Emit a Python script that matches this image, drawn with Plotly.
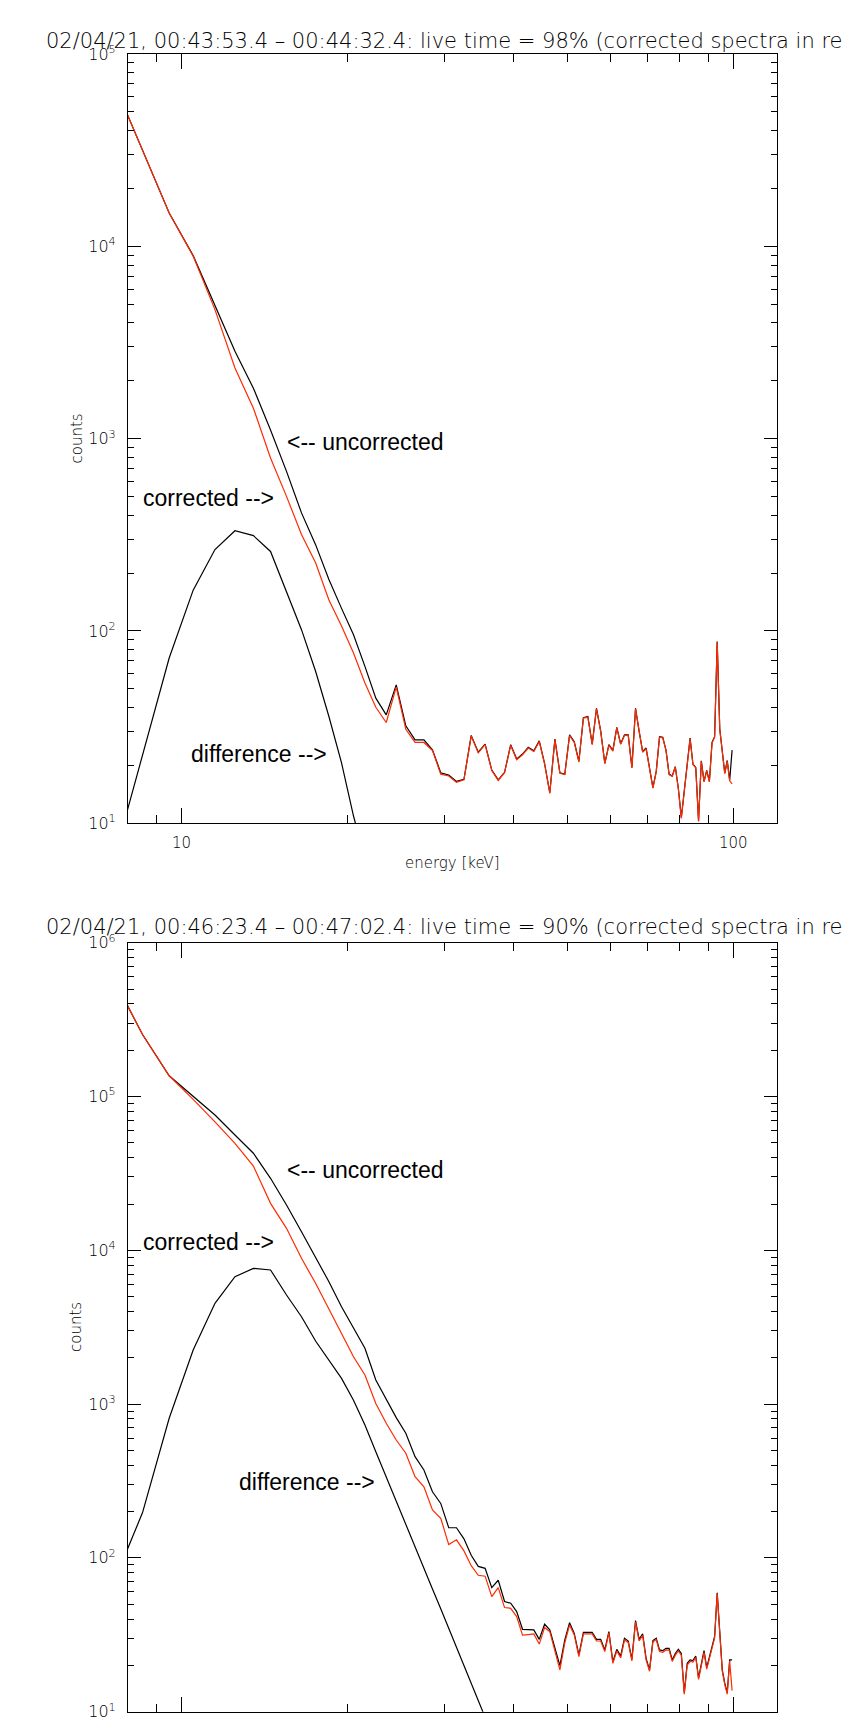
import plotly.graph_objects as go

# ---------------- data ----------------
energy = [7.5, 8.5, 9.5, 10.5, 11.5, 12.5, 13.5, 14.5, 15.5, 16.5, 17.5, 18.5, 19.5, 20.5,
          21.5, 22.5, 23.5, 24.5, 25.5, 26.5, 27.5, 28.5, 29.5, 30.5, 31.5, 32.5, 33.5, 34.5,
          35.5, 36.5, 37.5, 38.5, 39.5, 40.5, 41.5, 42.5, 43.5, 44.5, 45.5, 46.5, 47.5, 48.5,
          49.5, 50.5, 51.5, 52.5, 53.5, 54.5, 55.5, 56.5, 57.5, 58.5, 59.5, 60.5, 61.5, 62.5,
          63.5, 64.5, 65.5, 66.5, 67.5, 68.5, 69.5, 70.5, 71.5, 72.5, 73.5, 74.5, 75.5, 76.5,
          77.5, 78.5, 79.5, 80.5, 81.5, 82.5, 83.5, 84.5, 85.5, 86.5, 87.5, 88.5, 89.5, 90.5,
          91.5, 92.5, 93.5, 94.5, 95.5, 96.5, 97.5, 98.5, 99.5]

# panel 1 : live time 98 %
uncorr_1 = [73800, 32000, 14900, 8950, 4950, 2850, 1830, 1110, 676, 411, 281, 185, 131, 95.6,
            65.4, 44.7, 36.6, 52.4, 32.1, 27.1, 27.1, 24.1, 18.3, 17.8, 16.5, 16.9, 28.6, 23.4,
            25.8, 18.9, 16.8, 18.4, 25.6, 21.6, 22.9, 24.8, 23.8, 26.8, 20.5, 14.4, 27.4, 18.3,
            18.0, 28.8, 26.5, 21.0, 35.4, 35.9, 25.8, 39.6, 30.2, 20.5, 25.6, 23.9, 31.5, 25.9,
            28.8, 28.8, 19.5, 39.6, 30.0, 23.6, 24.6, 19.3, 15.3, 18.6, 28.2, 28.0, 24.1, 18.0,
            17.6, 19.7, 15.2, 10.7, 14.9, 20.5, 27.7, 20.3, 19.5, 10.3, 21.1, 16.5, 18.8, 16.5,
            26.3, 28.2, 88.1, 31.0, 23.0, 18.2, 21.2, 16.7, 24.0]
corr_1 = [73800, 32000, 14900, 8900, 4690, 2330, 1440, 793, 501, 317, 226, 145, 106, 76.7,
          53.6, 40.1, 33.4, 51.0, 30.8, 26.3, 26.3, 23.9, 18.0, 17.6, 16.3, 16.8, 28.4, 23.2,
          25.6, 18.8, 16.7, 18.3, 25.4, 21.4, 22.7, 24.6, 23.6, 26.6, 20.3, 14.3, 27.2, 18.2,
          17.9, 28.6, 26.3, 20.8, 35.2, 35.6, 25.6, 39.3, 30.0, 20.4, 25.4, 23.7, 31.3, 25.7,
          28.6, 28.6, 19.4, 39.3, 29.8, 23.4, 24.4, 19.2, 15.2, 18.5, 28.0, 27.8, 23.9, 17.9,
          17.5, 19.6, 15.1, 10.6, 14.8, 20.4, 27.5, 20.2, 19.4, 10.2, 21.0, 16.4, 18.7, 16.4,
          26.1, 28.0, 87.5, 30.8, 22.8, 18.1, 21.0, 16.6, 16.0]
diff_energy_1 = [7.5, 8.5, 9.5, 10.5, 11.5, 12.5, 13.5, 14.5, 15.5, 16.5, 17.5, 18.5, 19.5,
                 20.5, 21.5, 22.5]
diff_1 = [6.1, 22.5, 72.3, 163, 265, 332, 313, 259, 161, 101.5, 61.7, 35.9, 20.6, 10.9, 6.5, 4.2]

# panel 2 : live time 90 %
uncorr_2 = [600000, 253000, 136500, 99700, 75900, 56200, 42800, 29400, 19700, 13200, 9080,
            6250, 4300, 3140, 2306, 1435, 1084, 816, 646, 455, 373, 269, 226, 157, 157, 133,
            104, 88, 85.5, 64, 71.5, 52, 50.7, 44.7, 34.3, 34.3, 34.0, 29.5, 37.0, 34.0, 26.0,
            19.9, 29.3, 37.9, 32.3, 23.4, 32.8, 32.8, 32.8, 29.5, 29.5, 25.2, 33.1, 21.1, 25.4,
            23.0, 30.0, 28.8, 21.9, 39.1, 29.5, 32.0, 22.2, 18.7, 29.0, 30.0, 25.2, 24.9, 25.8,
            25.8, 21.7, 23.9, 25.4, 23.9, 13.3, 20.6, 21.7, 21.5, 23.0, 16.6, 20.6, 24.9, 19.3,
            22.8, 25.8, 30.8, 59.3, 34.0, 18.7, 15.3, 13.3, 21.7, 21.7]
corr_2 = [600000, 253000, 136500, 95900, 68500, 49600, 35300, 20200, 13900, 8870, 6100, 4200,
          2880, 2030, 1545, 1010, 750, 584, 479, 337, 290, 205, 181, 122, 131, 111, 89, 77, 76,
          56, 64, 47.5, 47.0, 41.5, 31.4, 31.7, 32.0, 27.5, 35.2, 33.1, 25.0, 18.7, 28.0, 36.6,
          31.5, 22.8, 32.0, 32.0, 32.0, 28.8, 28.8, 24.6, 32.5, 20.6, 24.8, 22.4, 29.2, 28.2,
          21.4, 38.3, 28.8, 31.3, 21.7, 18.3, 28.4, 29.4, 24.6, 24.3, 25.2, 25.1, 21.2, 23.3,
          24.8, 23.3, 13.0, 20.1, 21.2, 21.0, 22.5, 16.2, 20.1, 24.3, 18.9, 22.3, 25.2, 30.1,
          58.5, 33.4, 18.3, 15.0, 13.0, 21.3, 13.7]
diff_energy_2 = [7.5, 8.5, 9.5, 10.5, 11.5, 12.5, 13.5, 14.5, 15.5, 16.5, 17.5, 18.5, 19.5,
                 20.5, 21.5, 22.5, 23.5, 24.5, 25.5, 26.5, 27.5, 28.5, 29.5, 30.5, 31.5, 32.5,
                 33.5, 34.5, 35.5, 36.5]
diff_2 = [66, 197, 809, 2250, 4520, 6730, 7630, 7450, 5120, 3700, 2570, 1940, 1470, 1060, 731,
          490, 334, 232, 165, 118, 85, 62.8, 46.6, 34.9, 26.3, 19.9, 15.4, 11.9, 9.3, 7.2]

titles = ["02/04/21, 00:43:53.4 \u2013 00:44:32.4: live time = 98% (corrected spectra in red)",
          "02/04/21, 00:46:23.4 \u2013 00:47:02.4: live time = 90% (corrected spectra in red)"]

x_ticks = [10, 100]
x_ticktext = ["10", "100"]
x_minor = [9, 20, 30, 40, 50, 60, 70, 80, 90]

# ---------------- layout helpers ----------------
W, H = 842, 1720
def fx(p):
    return p / W
def fy(p):
    return 1 - p / H

RED = "#ff2a00"
HERSHEY = "DejaVu Sans"
HELV = "Liberation Sans, Arial, sans-serif"

fig = go.Figure()

panels = [
    dict(xa="x", ya="y", unc=uncorr_1, cor=corr_1, de=diff_energy_1, dv=diff_1),
    dict(xa="x2", ya="y2", unc=uncorr_2, cor=corr_2, de=diff_energy_2, dv=diff_2),
]

for p in panels:
    fig.add_trace(go.Scatter(x=energy, y=p["unc"], mode="lines", xaxis=p["xa"], yaxis=p["ya"],
                             line=dict(color="black", width=1.2), showlegend=False))
    fig.add_trace(go.Scatter(x=p["de"], y=p["dv"], mode="lines", xaxis=p["xa"], yaxis=p["ya"],
                             line=dict(color="black", width=1.2), showlegend=False))
    fig.add_trace(go.Scatter(x=energy, y=p["cor"], mode="lines", xaxis=p["xa"], yaxis=p["ya"],
                             line=dict(color=RED, width=1.2), showlegend=False))

def xaxis_cfg(anchor, labels=True):
    return dict(type="log", range=[0.90309, 2.07918], domain=[fx(128), fx(777)], anchor=anchor,
                automargin=False, showticklabels=labels,
                showgrid=False, zeroline=False, showline=True, linecolor="black", linewidth=1.2,
                mirror="allticks", ticks="inside", ticklen=15, tickwidth=1, tickcolor="black",
                tickmode="array", tickvals=x_ticks, ticktext=x_ticktext,
                tickfont=dict(family=HERSHEY, size=15, color="black", weight=200),
                ticklabelstandoff=6,
                minor=dict(tickmode="array", tickvals=x_minor, ticks="inside", ticklen=8,
                           tickwidth=1, tickcolor="black", showgrid=False))

def yaxis_cfg(top, bot, dec, anchor):
    lo, hi = dec
    majors = [10 ** k for k in range(lo, hi + 1)]
    mtext = ["10<sup>%d</sup>" % k for k in range(lo, hi + 1)]
    minors = [m * 10 ** k for k in range(lo, hi) for m in range(2, 10)]
    return dict(type="log", range=[lo - 0.0005, hi + 0.0005], domain=[fy(bot), fy(top)],
                anchor=anchor, automargin=False, showgrid=False, zeroline=False, showline=True,
                linecolor="black", linewidth=1.2, mirror="allticks", ticks="inside", ticklen=13,
                tickwidth=1, tickcolor="black", tickmode="array", tickvals=majors, ticktext=mtext,
                tickfont=dict(family=HERSHEY, size=16, color="black", weight=200),
                ticklabelstandoff=8, ticklabeloverflow="allow",
                minor=dict(tickmode="array", tickvals=minors, ticks="inside", ticklen=6,
                           tickwidth=1, tickcolor="black", showgrid=False))

fig.update_layout(
    width=W, height=H, margin=dict(l=0, r=0, t=0, b=0, pad=0, autoexpand=False),
    paper_bgcolor="white", plot_bgcolor="white", showlegend=False,
    xaxis=xaxis_cfg("y"),
    yaxis=yaxis_cfg(54, 823.3, (1, 5), "x"),
    xaxis2=xaxis_cfg("y2", labels=False),
    yaxis2=yaxis_cfg(942.7, 1711.7, (1, 6), "x2"),
)

ann = []
# titles
for t, yc in zip(titles, [41.5, 927]):
    ann.append(dict(text=t, x=fx(44), y=fy(yc), xref="paper", yref="paper", xanchor="left",
                    yanchor="middle", showarrow=False,
                    font=dict(family=HERSHEY, size=21, color="black", weight=200)))
# axis titles
for yc in [438.5, 1327]:
    ann.append(dict(text="counts", x=fx(76), y=fy(yc), xref="paper", yref="paper",
                    xanchor="center", yanchor="middle", textangle=-90, showarrow=False,
                    font=dict(family=HERSHEY, size=15, color="black", weight=200)))
ann.append(dict(text="energy [keV]", x=fx(452), y=fy(863), xref="paper", yref="paper",
                xanchor="center", yanchor="middle", showarrow=False,
                font=dict(family=HERSHEY, size=15, color="black", weight=200)))
# curve labels
labels = [("&lt;-- uncorrected", 285, 442), ("corrected --&gt;", 141, 498),
          ("difference --&gt;", 189, 754),
          ("&lt;-- uncorrected", 285, 1170), ("corrected --&gt;", 141, 1241.5),
          ("difference --&gt;", 237, 1481.5)]
for t, xl, yc in labels:
    ann.append(dict(text=t, x=fx(xl), y=fy(yc), xref="paper", yref="paper", xanchor="left",
                    yanchor="middle", showarrow=False,
                    font=dict(family=HELV, size=23, color="black")))
fig.update_layout(annotations=ann)

fig.write_html("out.html")
